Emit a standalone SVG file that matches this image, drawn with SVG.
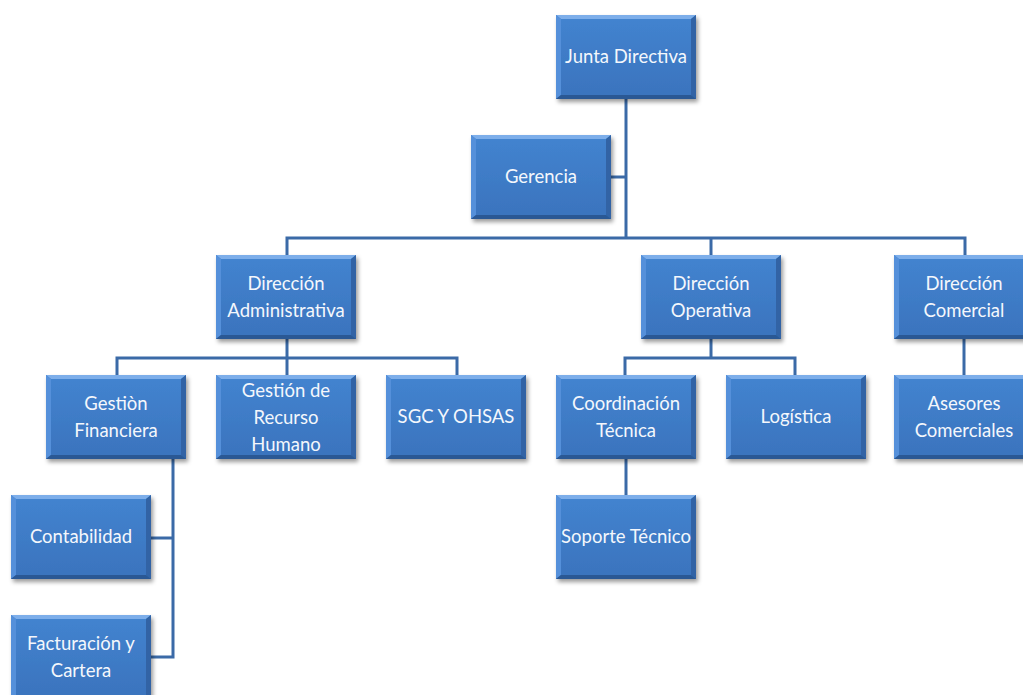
<svg xmlns="http://www.w3.org/2000/svg" xmlns:xlink="http://www.w3.org/1999/xlink" width="1023" height="695" viewBox="0 0 1023 695">
  <style>
    .lbl { font-family: Lato, "Open Sans", "Liberation Sans", sans-serif; font-size: 18.5px; fill: #f4f7fc; text-anchor: middle; }
    .wire { fill: none; stroke: #3b6aa7; stroke-width: 3; }
  </style>
  <defs>
    <linearGradient id="face" x1="0" y1="0" x2="0" y2="1">
      <stop offset="0" stop-color="#4384d0"/>
      <stop offset="1" stop-color="#3a73bd"/>
    </linearGradient>
    <filter id="shadow" x="-10%" y="-10%" width="125%" height="130%">
      <feDropShadow dx="2" dy="3" stdDeviation="2" flood-color="#000" flood-opacity="0.4"/>
    </filter>
    <!-- bevelled box, 140 x 84 -->
    <symbol id="box" overflow="visible">
      <g filter="url(#shadow)">
        <rect x="0" y="0" width="140" height="84" fill="url(#face)"/>
        <polygon points="0,0 140,0 135,4 5,4" fill="#7daeea"/>
        <polygon points="0,0 5,4 5,80 0,84" fill="#5590da"/>
        <polygon points="140,0 140,84 135,80 135,4" fill="#3064a5"/>
        <polygon points="0,84 140,84 135,80 5,80" fill="#295894"/>
      </g>
    </symbol>
  </defs>

  <rect width="1023" height="695" fill="#ffffff"/>

  <!-- connectors -->
  <g id="connectors">
    <path class="wire" d="M626,99 V238"/>
    <path class="wire" d="M611,177 H626"/>
    <path class="wire" d="M287,255 V238 H965 V255"/>
    <path class="wire" d="M711,238 V255"/>
    <path class="wire" d="M117,375 V358 H457 V375"/>
    <path class="wire" d="M287,339 V375"/>
    <path class="wire" d="M625,375 V358 H795 V375"/>
    <path class="wire" d="M711,339 V358"/>
    <path class="wire" d="M964,339 V375"/>
    <path class="wire" d="M173,459 V657 H151"/>
    <path class="wire" d="M151,538 H173"/>
    <path class="wire" d="M626,459 V495"/>
  </g>

  <g id="junta-directiva">
    <use xlink:href="#box" x="556" y="15"/>
    <text class="lbl" x="626" y="63">Junta Directiva</text>
  </g>
  <g id="gerencia">
    <use xlink:href="#box" x="471" y="135"/>
    <text class="lbl" x="541" y="183">Gerencia</text>
  </g>
  <g id="direccion-administrativa">
    <use xlink:href="#box" x="216" y="255"/>
    <text class="lbl" x="286" y="290">Dirección</text>
    <text class="lbl" x="286" y="317">Administrativa</text>
  </g>
  <g id="direccion-operativa">
    <use xlink:href="#box" x="641" y="255"/>
    <text class="lbl" x="711" y="290">Dirección</text>
    <text class="lbl" x="711" y="317">Operativa</text>
  </g>
  <g id="direccion-comercial">
    <use xlink:href="#box" x="894" y="255"/>
    <text class="lbl" x="964" y="290">Dirección</text>
    <text class="lbl" x="964" y="317">Comercial</text>
  </g>
  <g id="gestion-financiera">
    <use xlink:href="#box" x="46" y="375"/>
    <text class="lbl" x="116" y="410">Gestiòn</text>
    <text class="lbl" x="116" y="437">Financiera</text>
  </g>
  <g id="gestion-recurso-humano">
    <use xlink:href="#box" x="216" y="375"/>
    <text class="lbl" x="286" y="397">Gestión de</text>
    <text class="lbl" x="286" y="424">Recurso</text>
    <text class="lbl" x="286" y="451">Humano</text>
  </g>
  <g id="sgc-ohsas">
    <use xlink:href="#box" x="386" y="375"/>
    <text class="lbl" x="456" y="423">SGC Y OHSAS</text>
  </g>
  <g id="coordinacion-tecnica">
    <use xlink:href="#box" x="556" y="375"/>
    <text class="lbl" x="626" y="410">Coordinación</text>
    <text class="lbl" x="626" y="437">Técnica</text>
  </g>
  <g id="logistica">
    <use xlink:href="#box" x="726" y="375"/>
    <text class="lbl" x="796" y="423">Logística</text>
  </g>
  <g id="asesores-comerciales">
    <use xlink:href="#box" x="894" y="375"/>
    <text class="lbl" x="964" y="410">Asesores</text>
    <text class="lbl" x="964" y="437">Comerciales</text>
  </g>
  <g id="contabilidad">
    <use xlink:href="#box" x="11" y="495"/>
    <text class="lbl" x="81" y="543">Contabilidad</text>
  </g>
  <g id="soporte-tecnico">
    <use xlink:href="#box" x="556" y="495"/>
    <text class="lbl" x="626" y="543">Soporte Técnico</text>
  </g>
  <g id="facturacion-cartera">
    <use xlink:href="#box" x="11" y="615"/>
    <text class="lbl" x="81" y="650">Facturación y</text>
    <text class="lbl" x="81" y="677">Cartera</text>
  </g>
</svg>
